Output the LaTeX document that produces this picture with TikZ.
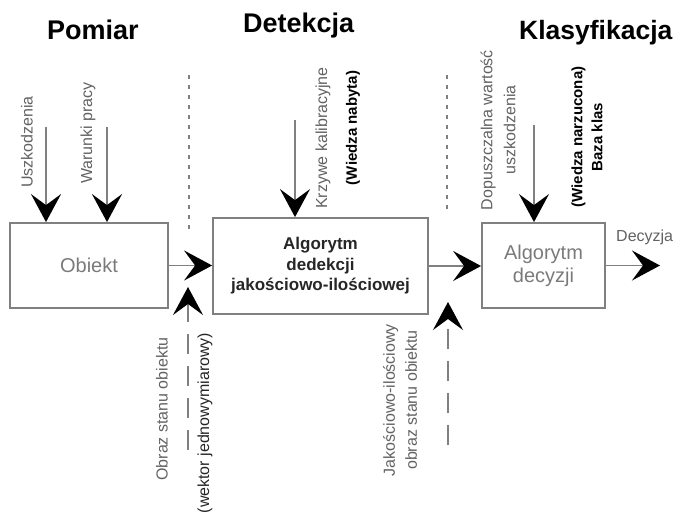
\documentclass[tikz,border=0pt]{standalone}
\usepackage{fontspec}
\setmainfont{Liberation Sans}
\usetikzlibrary{arrows.meta}
\definecolor{linegray}{HTML}{808080}
\definecolor{textgray}{HTML}{626262}
\definecolor{boxtext}{HTML}{7A7A7A}
\begin{document}
\begin{tikzpicture}[x=1pt,y=-1pt,
  box/.style={draw=linegray, line width=1.8pt, inner sep=0pt},
  bigtip/.style={-{Stealth[length=28pt,width=30pt,inset=11pt,color=black]}},
  conn/.style={draw=linegray, line width=1.8pt, bigtip},
  feed/.style={draw=linegray, line width=1.6pt, dash pattern=on 20pt off 12pt, bigtip},
  divider/.style={draw=linegray, line width=1.5pt, dash pattern=on 4pt off 6pt},
  title/.style={font=\fontsize{27}{32}\selectfont\bfseries, anchor=base west, inner sep=0pt},
  lbl/.style={font=\fontsize{16}{22}\selectfont, text=textgray, rotate=90, align=center, inner sep=0pt},
  know/.style={lbl, text=black, font=\fontsize{15}{20}\selectfont\bfseries}
]
\useasboundingbox (0,0) rectangle (673,516);

% section titles
\node[title] (t-pom) at (47,40) {Pomiar};
\node[title] (t-det) at (243,33) {Detekcja};
\node[title, font=\fontsize{26.5}{32}\selectfont\bfseries] (t-kla) at (519,40) {Klasyfikacja};

% section dividers
\draw[divider] (189,75) -- (189,233);
\draw[divider] (447,75) -- (447,212);

% blocks
\node[box, minimum width=158pt, minimum height=85pt,
      font=\fontsize{20}{23}\selectfont, text=boxtext] (obiekt) at (89,265.5) {Obiekt};
\node[box, minimum width=215pt, minimum height=96pt, align=center,
      font=\fontsize{17}{20.5}\selectfont\bfseries, text=black!85] (det) at (320.5,266)
      {Algorytm\\dedekcji\\jakościowo-ilościowej};
\node[box, minimum width=123pt, minimum height=85pt, align=center,
      font=\fontsize{20}{23}\selectfont, text=boxtext] (dec) at (543.5,265.5)
      {Algorytm\\decyzji};

% main flow
\coordinate (out) at (660,263);
\draw[conn] (obiekt.east) -- (obiekt.east -| det.west);
\draw[conn] (det.east) -- (det.east -| dec.west);
\draw[conn] (dec.east) -- (dec.east -| out);
\node[font=\fontsize{16}{19}\selectfont, text=textgray, anchor=base west, inner sep=0pt]
      (l-dcz) at (616,242) {Decyzja};

% inputs from above
\coordinate (in-usz) at (46,127);
\coordinate (in-war) at (107,127);
\coordinate (in-krz) at (295,120);
\coordinate (in-dop) at (534,125);
\draw[conn] (in-usz) -- (in-usz |- obiekt.north);
\draw[conn] (in-war) -- (in-war |- obiekt.north);
\draw[conn] (in-krz) -- (in-krz |- det.north);
\draw[conn] (in-dop) -- (in-dop |- dec.north);

\node[lbl] (l-usz) at (27,142) {Uszkodzenia};
\node[lbl] (l-war) at (88,133) {Warunki pracy};
\node[lbl] (l-krz) at (323,138) {Krzywe kalibracyjne};
\node[know] (l-wn) at (353,128) {(Wiedza nabyta)};
\node[lbl, font=\fontsize{16}{23}\selectfont] (l-dop) at (498,130)
      {Dopuszczalna wartość\\uszkodzenia};
\node[know] (l-wz) at (587,137) {(Wiedza narzucona)\\Baza klas};

% object images passed upward
\coordinate (im1-s) at (188,450);
\coordinate (im1-e) at (188,287);
\coordinate (im2-s) at (448,445);
\coordinate (im2-e) at (448,302);
\draw[feed] (im1-s) -- (im1-e);
\draw[feed] (im2-s) -- (im2-e);

\node[lbl] (l-obr) at (162,409) {Obraz stanu obiektu};
\node[lbl, text=black!85] (l-wek) at (205,423) {(wektor jednowymiarowy)};
\node[lbl] (l-jak) at (400,400) {Jakościowo-ilościowy\\obraz stanu obiektu};
\end{tikzpicture}
\end{document}
